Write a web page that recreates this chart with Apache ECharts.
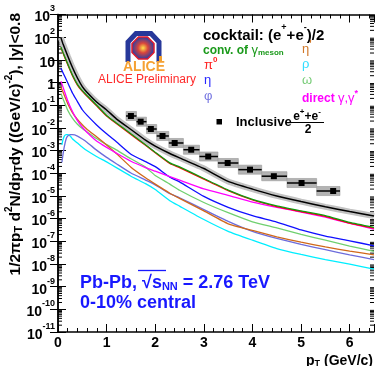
<!DOCTYPE html>
<html>
<head>
	<meta charset="UTF-8">
	<title></title>
	<style>
		html, body { margin: 0; padding: 0; background: #fff; }
		#chart { width: 375px; height: 366px; }
	</style>
	<script src="https://cdn.jsdelivr.net/npm/echarts@6/dist/echarts.min.js"></script>
</head>
<body>
	<div id="chart"></div>
	<script>
		// pT grid (GeV/c) for most cocktail components
		var ptMain = [0.06, 0.1, 0.2, 0.3, 0.4, 0.5, 0.6, 0.8, 1.0, 1.2, 1.5, 1.8, 2.0, 2.3, 2.5, 3.0, 3.5, 4.0, 4.5, 5.0, 5.5, 6.0, 6.5];
		// finer low-pT grid for phi and rho (they peak near 0.2)
		var ptLow = [0.08, 0.1, 0.13, 0.17, 0.2, 0.25, 0.3, 0.4, 0.5, 0.6, 0.8, 1.0, 1.2, 1.5, 1.8, 2.0, 2.3, 2.5, 3.0, 3.5, 4.0, 4.5, 5.0, 5.5, 6.0, 6.5];

		var cocktailSum = [95.5, 52.5, 14.8, 4.47, 1.58, 0.661, 0.363, 0.135, 0.0617, 0.0251, 8.51e-3, 2.88e-3, 1.58e-3, 7.41e-4, 4.79e-4, 1.62e-4, 4.37e-5, 2.00e-5, 1.00e-5, 5.62e-6, 3.31e-6, 2.04e-6, 1.29e-6];
		var convGamma = [37.2, 21.9, 6.61, 2.09, 0.832, 0.437, 0.263, 0.0977, 0.0355, 0.0166, 5.50e-3, 1.82e-3, 8.51e-4, 2.88e-4, 1.91e-4, 5.89e-5, 1.82e-5, 7.08e-6, 3.63e-6, 2.19e-6, 1.35e-6, 6.76e-7, 4.07e-7];
		var pi0 = [34.7, 20.4, 6.17, 1.95, 0.776, 0.407, 0.245, 0.0912, 0.0331, 0.0155, 5.13e-3, 1.70e-3, 7.94e-4, 2.69e-4, 1.78e-4, 5.50e-5, 1.70e-5, 6.61e-6, 3.39e-6, 2.04e-6, 1.26e-6, 6.31e-7, 3.80e-7];
		var eta = [4.27, 2.79, 0.977, 0.339, 0.145, 0.0631, 0.0355, 0.0132, 5.50e-3, 2.45e-3, 6.92e-4, 3.24e-4, 1.95e-4, 6.76e-5, 4.17e-5, 9.55e-6, 3.16e-6, 1.35e-6, 7.08e-7, 3.16e-7, 1.70e-7, 1.05e-7, 6.31e-8];
		var directGamma = [1.15, 0.661, 0.158, 0.0513, 0.0209, 0.0107, 6.31e-3, 2.57e-3, 1.38e-3, 7.76e-4, 3.39e-4, 1.78e-4, 1.23e-4, 7.08e-5, 5.01e-5, 2.04e-5, 1.07e-5, 5.37e-6, 3.16e-6, 1.95e-6, 1.15e-6, 6.17e-7, 3.47e-7];
		var omega = [0.324, 0.200, 0.0603, 0.0263, 0.0145, 9.33e-3, 6.61e-3, 3.31e-3, 1.82e-3, 1.07e-3, 4.37e-4, 1.86e-4, 7.94e-5, 3.31e-5, 1.78e-5, 5.13e-6, 1.82e-6, 7.24e-7, 3.89e-7, 2.00e-7, 1.12e-7, 6.17e-8, 3.55e-8];
		var etaPrime = [0.631, 0.389, 0.117, 0.0457, 0.0234, 0.0138, 8.51e-3, 3.98e-3, 1.78e-3, 7.41e-4, 1.86e-4, 6.31e-5, 3.31e-5, 1.32e-5, 7.76e-6, 2.19e-6, 5.89e-7, 3.02e-7, 1.58e-7, 9.12e-8, 5.62e-8, 3.72e-8, 2.51e-8];
		var phi = [3.02e-4, 6.17e-4, 1.51e-3, 3.39e-3, 4.37e-3, 5.01e-3, 5.01e-3, 4.37e-3, 3.24e-3, 2.29e-3, 1.02e-3, 5.01e-4, 2.63e-4, 1.02e-4, 5.01e-5, 3.09e-5, 1.26e-5, 8.32e-6, 2.51e-6, 7.59e-7, 2.75e-7, 1.35e-7, 7.24e-8, 4.27e-8, 2.51e-8, 1.55e-8];
		var rho = [1.78e-3, 2.88e-3, 4.37e-3, 5.01e-3, 5.01e-3, 4.37e-3, 3.24e-3, 2.14e-3, 1.41e-3, 9.77e-4, 5.37e-4, 3.16e-4, 1.78e-4, 7.41e-5, 3.47e-5, 1.91e-5, 6.17e-6, 3.55e-6, 9.12e-7, 2.75e-7, 1.12e-7, 4.79e-8, 2.63e-8, 1.55e-8, 9.77e-9, 5.89e-9];

		// inclusive (e+ + e-)/2 measurement
		var incPt = [1.50, 1.70, 1.91, 2.15, 2.40, 2.74, 3.09, 3.49, 3.95, 4.44, 5.01, 5.66];
		var incYield = [0.0335, 0.0188, 8.93e-3, 4.40e-3, 2.16e-3, 1.09e-3, 5.48e-4, 2.83e-4, 1.44e-4, 7.41e-5, 3.72e-5, 1.65e-5];
		var incBinLo = [1.40, 1.615, 1.82, 2.03, 2.28, 2.58, 2.91, 3.29, 3.71, 4.19, 4.71, 5.32];
		var incBinHi = [1.615, 1.82, 2.03, 2.28, 2.58, 2.91, 3.29, 3.71, 4.19, 4.71, 5.32, 5.80];
		var incSysUp = [0.58, 0.58, 0.58, 0.58, 0.58, 0.58, 0.58, 0.58, 0.58, 0.58, 0.58, 0.58];
		var incSysDown = [0.37, 0.37, 0.37, 0.37, 0.37, 0.37, 0.37, 0.37, 0.37, 0.37, 0.37, 0.37];

		var xTicks = [0, 1, 2, 3, 4, 5, 6];

		var FONT = '"Liberation Sans", Arial, Helvetica, sans-serif';

		function pairs(xs, ys) {
			return ys.map(function (y, i) { return [xs[i], y]; });
		}

		var incData = incPt.map(function (x, i) {
			var y = incYield[i];
			return [x, y, incBinLo[i], incBinHi[i], y * (1 + incSysUp[i]), y * (1 - incSysDown[i])];
		});

		// log minor tick positions 2..9 x 10^n
		var yMinor = [];
		for (var n = -11; n < 3; n++) {
			for (var k = 2; k < 10; k++) {
				yMinor.push([0, k * Math.pow(10, n)]);
			}
		}

		function curve(name, xs, ys, color, width) {
			return {
				type: 'line',
				name: name,
				data: pairs(xs, ys),
				symbol: 'none',
				smooth: 0.15,
				silent: true,
				lineStyle: { color: color, width: width || 1.3 },
				z: 3
			};
		}

		var mychart = echarts.init(document.getElementById('chart'));
		mychart.setOption({
			animation: false,
			grid: { left: 58, right: 1, top: 14.5, bottom: 34 },
			xAxis: [
				{
					type: 'value', min: 0, max: 6.5, interval: 1, position: 'bottom',
					axisLine: { lineStyle: { color: '#000', width: 1.5 } },
					axisTick: { inside: true, length: 8, lineStyle: { color: '#000' } },
					minorTick: { show: true, splitNumber: 5, length: 4, lineStyle: { color: '#000' } },
					splitLine: { show: false },
					axisLabel: {
						margin: 4, showMaxLabel: false,
						color: '#000', fontFamily: FONT, fontWeight: 'bold', fontSize: 14,
						formatter: function (v) { return xTicks.indexOf(v) >= 0 ? String(v) : ''; }
					}
				},
				{
					type: 'value', min: 0, max: 6.5, interval: 1, position: 'top',
					axisLine: { lineStyle: { color: '#000', width: 1.5 } },
					axisTick: { inside: true, length: 8, lineStyle: { color: '#000' } },
					minorTick: { show: true, splitNumber: 5, length: 4, lineStyle: { color: '#000' } },
					splitLine: { show: false },
					axisLabel: { show: false }
				}
			],
			yAxis: [
				{
					type: 'log', logBase: 10, min: 1e-11, max: 1e3, interval: 1, position: 'left',
					axisLine: { show: true, lineStyle: { color: '#000', width: 1.5 } },
					axisTick: { inside: true, length: 8, lineStyle: { color: '#000' } },
					splitLine: { show: false },
					axisLabel: {
						margin: 3, color: '#000',
						formatter: function (v) {
							var e = Math.round(Math.log10(v));
							if (e === 0) return '{b|1}';
							if (e === 1) return '{b|10}';
							return '{b|10}{s|' + e + '}';
						},
						rich: {
							b: { fontFamily: FONT, fontWeight: 'bold', fontSize: 14, lineHeight: 20, verticalAlign: 'bottom', color: '#000' },
							s: { fontFamily: FONT, fontWeight: 'bold', fontSize: 9, lineHeight: 11, verticalAlign: 'top', color: '#000' }
						}
					}
				},
				{
					type: 'log', logBase: 10, min: 1e-11, max: 1e3, interval: 1, position: 'right',
					axisLine: { show: true, lineStyle: { color: '#000', width: 1.5 } },
					axisTick: { inside: true, length: 8, lineStyle: { color: '#000' } },
					splitLine: { show: false },
					axisLabel: { show: false }
				}
			],
			series: [
				{
					type: 'custom', silent: true, data: yMinor, z: 2,
					renderItem: function (params, api) {
						var p = api.coord([0, api.value(1)]);
						var q = api.coord([6.5, api.value(1)]);
						return {
							type: 'group', children: [
								{ type: 'line', shape: { x1: p[0], y1: p[1], x2: p[0] + 4, y2: p[1] }, style: { stroke: '#000', lineWidth: 1 } },
								{ type: 'line', shape: { x1: q[0] - 4, y1: q[1], x2: q[0], y2: q[1] }, style: { stroke: '#000', lineWidth: 1 } }
							]
						};
					}
				},
				// systematic band of the cocktail sum
				{
					type: 'line', data: pairs(ptMain, cocktailSum), symbol: 'none', smooth: 0.15, silent: true,
					lineStyle: { color: '#c2c2c2', width: 6 }, z: 2
				},
				curve('rho', ptLow, rho, '#00eeff'),
				curve('phi', ptLow, phi, '#6c6cdc'),
				curve('omega', ptMain, omega, '#6fd06f'),
				curve("eta'", ptMain, etaPrime, '#d0681a'),
				curve('eta', ptMain, eta, '#1010ff'),
				curve('direct', ptMain, directGamma, '#ff00ff'),
				curve('pi0', ptMain, pi0, '#ff0000'),
				curve('conv', ptMain, convGamma, '#119a11'),
				curve('sum', ptMain, cocktailSum, '#000', 1.5),
				{
					type: 'custom', silent: true, data: incData, z: 4,
					encode: { x: [0, 2, 3], y: [1, 4, 5] },
					renderItem: function (params, api) {
						var a = api.coord([api.value(2), api.value(4)]);
						var b = api.coord([api.value(3), api.value(5)]);
						var c = api.coord([api.value(0), api.value(1)]);
						return {
							type: 'group', children: [
								{ type: 'rect', shape: { x: a[0], y: a[1], width: b[0] - a[0], height: b[1] - a[1] }, style: { fill: '#b3b3b3', stroke: '#999', lineWidth: 0.6 } },
								{ type: 'line', shape: { x1: a[0], y1: c[1], x2: b[0], y2: c[1] }, style: { stroke: '#000', lineWidth: 1.5 } },
								{ type: 'rect', shape: { x: c[0] - 3, y: c[1] - 3, width: 6, height: 6 }, style: { fill: '#000' } }
							]
						};
					}
				}
			],
			graphic: [
				// y axis title
				{
					type: 'text', x: 14, y: 13, rotation: Math.PI / 2,
					style: {
						text: '{n|1/2πp}{sb|T}{n| d}{sp|2}{n|N/dp}{sb|T}{n|dy ((GeV/c)}{sp|-2}{n|), |y|<0.8}',
						align: 'right', verticalAlign: 'middle',
						rich: {
							n: { fontFamily: FONT, fontWeight: 'bold', fontSize: 15.5, lineHeight: 20, verticalAlign: 'bottom', fill: '#000' },
							sb: { fontFamily: FONT, fontWeight: 'bold', fontSize: 11, lineHeight: 10, verticalAlign: 'bottom', fill: '#000' },
							sp: { fontFamily: FONT, fontWeight: 'bold', fontSize: 10, lineHeight: 11, verticalAlign: 'top', fill: '#000' }
						}
					}
				},
				// x axis title
				{
					type: 'text', x: 373, y: 359,
					style: {
						text: '{n|p}{sb|T}{n| (GeV/c)}',
						align: 'right', verticalAlign: 'middle',
						rich: {
							n: { fontFamily: FONT, fontWeight: 'bold', fontSize: 14, lineHeight: 18, verticalAlign: 'bottom', fill: '#000' },
							sb: { fontFamily: FONT, fontWeight: 'bold', fontSize: 9, lineHeight: 9, verticalAlign: 'bottom', fill: '#000' }
						}
					}
				},
				// ALICE logo
				{
					type: 'polyline', shape: { points: [[128, 62], [128, 42], [136, 33.5], [151, 33.5], [159, 42], [159, 62]] },
					style: { stroke: '#27389a', lineWidth: 5, fill: null }
				},
				{
					type: 'polygon',
					shape: { points: [[138.5, 37], [147.5, 37], [154, 43.5], [154, 52.5], [147.5, 59], [138.5, 59], [132, 52.5], [132, 43.5]] },
					style: {
						stroke: '#e21b2c', lineWidth: 1.5,
						fill: new echarts.graphic.RadialGradient(0.5, 0.5, 0.6, [
							{ offset: 0, color: '#ffe24a' },
							{ offset: 0.35, color: '#d8443c' },
							{ offset: 0.75, color: '#3a3f9a' },
							{ offset: 1, color: '#2a2c80' }
						])
					}
				},
				{ type: 'rect', shape: { x: 159, y: 56, width: 3, height: 5 }, style: { fill: '#f0a030' } },
				{
					type: 'text', x: 144, y: 67.5,
					style: { text: 'ALICE', font: 'bold 14px ' + FONT, fill: '#f5a133', align: 'center', verticalAlign: 'middle' }
				},
				{
					type: 'text', x: 147, y: 79.5,
					style: { text: 'ALICE Preliminary', font: '12px ' + FONT, fill: '#ff2a2a', align: 'center', verticalAlign: 'middle' }
				},
				// legend
				{
					type: 'text', x: 203, y: 33,
					style: {
						text: '{n|cocktail: (e}{sp|+}{n|+e}{sp|-}{n|)/2}', verticalAlign: 'middle',
						rich: {
							n: { fontFamily: FONT, fontWeight: 'bold', fontSize: 15, lineHeight: 20, verticalAlign: 'bottom', fill: '#000' },
							sp: { fontFamily: FONT, fontWeight: 'bold', fontSize: 9, lineHeight: 10, verticalAlign: 'top', fill: '#000' }
						}
					}
				},
				{
					type: 'text', x: 203, y: 49,
					style: {
						text: '{n|conv. of }{g|γ}{sb|meson}', verticalAlign: 'middle',
						rich: {
							n: { fontFamily: FONT, fontWeight: 'bold', fontSize: 12, lineHeight: 16, verticalAlign: 'bottom', fill: '#1b9a1b' },
							g: { fontFamily: FONT, fontSize: 13, lineHeight: 16, verticalAlign: 'bottom', fill: '#1b9a1b' },
							sb: { fontFamily: FONT, fontWeight: 'bold', fontSize: 8, lineHeight: 8, verticalAlign: 'bottom', fill: '#1b9a1b' }
						}
					}
				},
				{
					type: 'text', x: 204, y: 64,
					style: {
						text: '{n|π}{sp|0}', verticalAlign: 'middle',
						rich: {
							n: { fontFamily: FONT, fontSize: 13, lineHeight: 16, verticalAlign: 'bottom', fill: '#ff2020' },
							sp: { fontFamily: FONT, fontWeight: 'bold', fontSize: 8, lineHeight: 9, verticalAlign: 'top', fill: '#ff2020' }
						}
					}
				},
				{ type: 'text', x: 204, y: 80, style: { text: 'η', font: '13px ' + FONT, fill: '#2828ff', verticalAlign: 'middle' } },
				{ type: 'text', x: 204, y: 96, style: { text: 'φ', font: '13px ' + FONT, fill: '#7474e0', verticalAlign: 'middle' } },
				{
					type: 'text', x: 302, y: 48,
					style: {
						text: '{n|η}{sp|\'}', verticalAlign: 'middle',
						rich: {
							n: { fontFamily: FONT, fontSize: 13, lineHeight: 16, verticalAlign: 'bottom', fill: '#d0782a' },
							sp: { fontFamily: FONT, fontWeight: 'bold', fontSize: 10, lineHeight: 10, verticalAlign: 'top', fill: '#d0782a' }
						}
					}
				},
				{ type: 'text', x: 302, y: 64, style: { text: 'ρ', font: '13px ' + FONT, fill: '#30ddff', verticalAlign: 'middle' } },
				{ type: 'text', x: 302, y: 80, style: { text: 'ω', font: '13px ' + FONT, fill: '#78cc78', verticalAlign: 'middle' } },
				{
					type: 'text', x: 302, y: 97,
					style: {
						text: '{b|direct }{n|γ,γ}{sp|*}', verticalAlign: 'middle',
						rich: {
							b: { fontFamily: FONT, fontWeight: 'bold', fontSize: 12, lineHeight: 16, verticalAlign: 'bottom', fill: '#ff00ff' },
							n: { fontFamily: FONT, fontSize: 13, lineHeight: 16, verticalAlign: 'bottom', fill: '#ff00ff' },
							sp: { fontFamily: FONT, fontWeight: 'bold', fontSize: 9, lineHeight: 9, verticalAlign: 'top', fill: '#ff00ff' }
						}
					}
				},
				// inclusive legend entry
				{ type: 'rect', shape: { x: 216.5, y: 119, width: 5.5, height: 5.5 }, style: { fill: '#000' } },
				{ type: 'text', x: 236, y: 122, style: { text: 'Inclusive', font: 'bold 13px ' + FONT, fill: '#000', verticalAlign: 'middle' } },
				{
					type: 'text', x: 307, y: 115,
					style: {
						text: '{n|e}{sp|+}{n|+e}{sp|-}', align: 'center', verticalAlign: 'middle',
						rich: {
							n: { fontFamily: FONT, fontWeight: 'bold', fontSize: 12, lineHeight: 15, verticalAlign: 'bottom', fill: '#000' },
							sp: { fontFamily: FONT, fontWeight: 'bold', fontSize: 8, lineHeight: 8, verticalAlign: 'top', fill: '#000' }
						}
					}
				},
				{ type: 'line', shape: { x1: 291, y1: 122.5, x2: 324, y2: 122.5 }, style: { stroke: '#000', lineWidth: 1.2 } },
				{ type: 'text', x: 308, y: 130, style: { text: '2', font: 'bold 12px ' + FONT, fill: '#000', align: 'center', verticalAlign: 'middle' } },
				// collision system
				{
					type: 'text', x: 80, y: 281,
					style: {
						text: '{n|Pb-Pb, √}{n|s}{sb|NN}{n| = 2.76 TeV}', verticalAlign: 'middle',
						rich: {
							n: { fontFamily: FONT, fontWeight: 'bold', fontSize: 18, lineHeight: 22, verticalAlign: 'bottom', fill: '#1818ff' },
							sb: { fontFamily: FONT, fontWeight: 'bold', fontSize: 11, lineHeight: 11, verticalAlign: 'bottom', fill: '#1818ff' }
						}
					}
				},
				{ type: 'line', shape: { x1: 138, y1: 270.5, x2: 166, y2: 270.5 }, style: { stroke: '#1818ff', lineWidth: 1.3 } },
				{ type: 'text', x: 80, y: 303, style: { text: '0-10% central', font: 'bold 18px ' + FONT, fill: '#1818ff', verticalAlign: 'middle' } }
			]
		});
	</script>
</body>
</html>
